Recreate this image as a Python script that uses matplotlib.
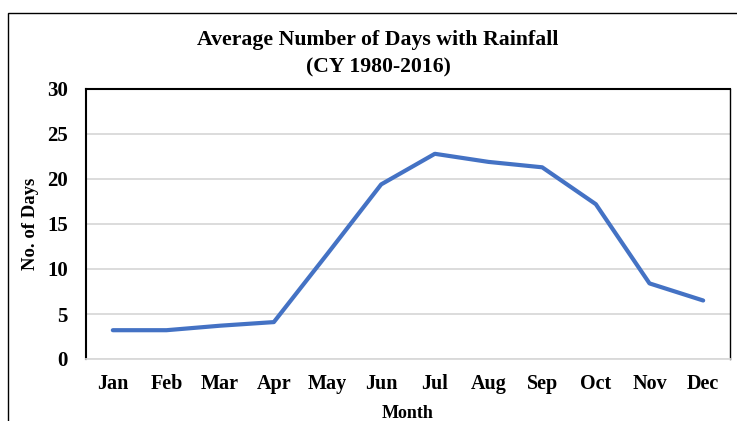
import matplotlib
matplotlib.use("Agg")
import matplotlib.pyplot as plt
from matplotlib.patches import Rectangle

months = ["Jan", "Feb", "Mar", "Apr", "May", "Jun", "Jul", "Aug", "Sep", "Oct", "Nov", "Dec"]
days = [3.2, 3.2, 3.7, 4.1, 11.7, 19.4, 22.8, 21.9, 21.3, 17.2, 8.4, 6.5]
yticks = [0, 5, 10, 15, 20, 25, 30]

plt.rcParams['font.family'] = ['Liberation Serif', 'DejaVu Serif']
plt.rcParams['font.weight'] = 'bold'

W, H = 737, 421
fig = plt.figure(figsize=(W / 100, H / 100), dpi=100)
ax = fig.add_axes([86 / W, 1 - 359 / H, (730 - 86) / W, (359 - 89) / H])

x = list(range(len(months)))
ax.plot(x, days, color="#4472C4", linewidth=3.0, solid_capstyle="round", solid_joinstyle="round", zorder=3)

ax.set_xlim(-0.5, len(months) - 0.5)
ax.set_ylim(0, 30)
ax.set_yticks(yticks)
ax.set_yticklabels([str(t) for t in yticks], fontsize=15, fontweight='bold')
ax.set_xticks(x)
ax.set_xticklabels(months, fontsize=14.5, fontweight='bold')
ax.tick_params(axis='both', length=0)
ax.tick_params(axis='y', pad=13)
ax.tick_params(axis='x', pad=11)

ax.grid(axis='y', color="#d9d9d9", linewidth=1.3, zorder=0)
ax.set_axisbelow(True)
for s in ['left', 'top']:
    ax.spines[s].set_color('black')
    ax.spines[s].set_linewidth(1.5)
ax.spines['right'].set_color('black')
ax.spines['right'].set_linewidth(1.0)
ax.spines['bottom'].set_color('#d9d9d9')
ax.spines['bottom'].set_linewidth(1.3)

ax.set_xlabel("Month", fontsize=13, fontweight='bold', labelpad=8)
ax.set_ylabel("No. of Days", fontsize=13.5, fontweight='bold', labelpad=6)

fig.text(378 / W, 1 - 40 / H, "Average Number of Days with Rainfall", ha='center', va='center',
         fontsize=15.7, fontweight='bold')
fig.text(378 / W, 1 - 67 / H, "(CY 1980-2016)", ha='center', va='center',
         fontsize=15.7, fontweight='bold')

frame = Rectangle((8 / W, -0.1), 1.2, 1.1 - 13 / H, transform=fig.transFigure,
                  fill=False, edgecolor='black', linewidth=1.0)
fig.patches.append(frame)

fig.savefig("out.png", dpi=100)
